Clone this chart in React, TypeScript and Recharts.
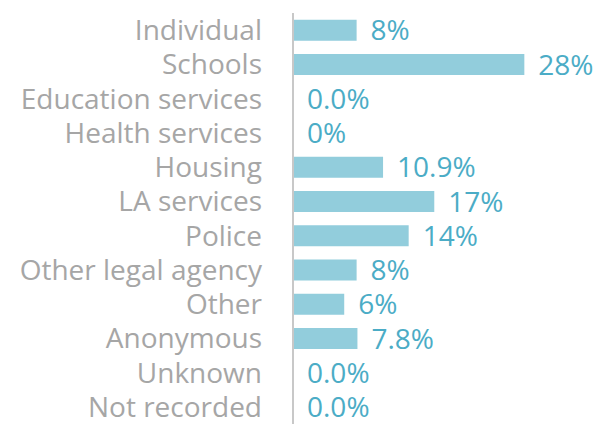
import { Bar, BarChart, LabelList, Rectangle, XAxis, YAxis } from 'recharts';

const categories = [
  'Individual',
  'Schools',
  'Education services',
  'Health services',
  'Housing',
  'LA services',
  'Police',
  'Other legal agency',
  'Other',
  'Anonymous',
  'Unknown',
  'Not recorded',
];
const shares = [7.7, 28, 0, 0, 10.9, 17.1, 14, 7.7, 6.2, 7.8, 0, 0];
const shareLabels = ['8%', '28%', '0.0%', '0%', '10.9%', '17%', '14%', '8%', '6%', '7.8%', '0.0%', '0.0%'];

const data = categories.map((name, i) => ({ name, value: shares[i], label: shareLabels[i] }));

const font = '"Open Sans", "Noto Sans", sans-serif';

// zero bars still need a rect so the label shows, but nothing should be drawn
const BarShape = (props: any) => (props.value === 0 ? <g /> : <Rectangle {...props} />);

export default function App() {
  return (
    <div style={{ position: 'absolute', left: 0, top: 0, width: 602, height: 424, background: '#fff' }}>
      <BarChart
        width={602}
        height={424}
        data={data}
        layout="vertical"
        barCategoryGap="20%"
        margin={{ top: 13, right: 0, left: 0, bottom: 0 }}
      >
        <XAxis type="number" domain={[0, 37.4]} hide />
        <YAxis
          type="category"
          dataKey="name"
          width={293}
          interval={0}
          tickLine={false}
          tickSize={0}
          tickMargin={31}
          axisLine={{ stroke: '#c8c8c8', strokeWidth: 2 }}
          tick={{ fill: '#a6a6a6', fontSize: 28, fontFamily: font }}
        />
        <Bar dataKey="value" fill="#92cddc" minPointSize={0.01} shape={BarShape} isAnimationActive={false}>
          <LabelList
            dataKey="label"
            position="right"
            offset={14}
            style={{ fill: '#4bacc6', fontSize: 28, fontFamily: font }}
          />
        </Bar>
      </BarChart>
    </div>
  );
}
